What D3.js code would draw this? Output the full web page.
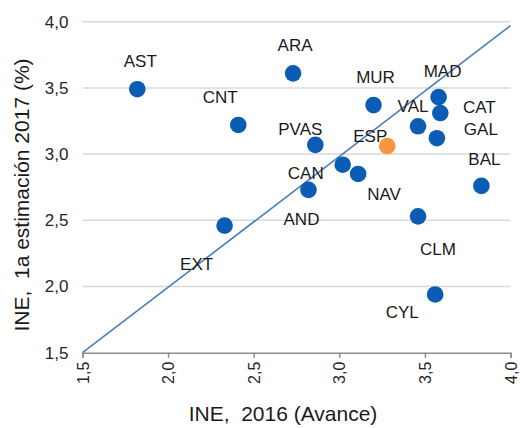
<!DOCTYPE html>
<html>
<head>
<meta charset="utf-8">
<script src="https://cdn.jsdelivr.net/npm/d3@7"></script>
<style>
  body { margin: 0; background: #fff; }
  svg { font-family: "Liberation Sans", Arial, sans-serif; }
  .title { white-space: pre; }
</style>
</head>
<body>
<div id="chart"></div>
<script>
// regional growth, INE 2016 avance vs 1a estimacion 2017
var regions = ["AST","ARA","CNT","MUR","MAD","CAT","VAL","GAL","ESP","PVAS","CAN","NAV","AND","BAL","CLM","CYL","EXT"];
var ine2016 = [1.82,2.73,2.41,3.20,3.58,3.59,3.46,3.57,3.28,2.86,3.02,3.11,2.82,3.83,3.46,3.56,2.33];
var est2017 = [3.49,3.61,3.22,3.37,3.43,3.31,3.21,3.12,3.06,3.07,2.92,2.85,2.73,2.76,2.53,1.94,2.46];
var xTicks = [1.5,2.0,2.5,3.0,3.5,4.0];
var yTicks = [1.5,2.0,2.5,3.0,3.5,4.0];
var diagX = [1.5,4.0];
var diagY = [1.5,3.97];

// where each label sits relative to its dot (px)
var labelOffsets = {
  AST:[3,-28], ARA:[2,-28], CNT:[-18,-28], MUR:[2,-28], MAD:[4,-26],
  CAT:[39,-6], VAL:[-5,-20], GAL:[44,-9], ESP:[-17,-10], PVAS:[-15,-16],
  CAN:[-37,8], NAV:[26,20], AND:[-7,29], BAL:[3,-27], CLM:[20,33],
  CYL:[-33,18], EXT:[-28,38]
};

var width = 520, height = 428;
var margin = {top: 21.7, right: 9.5, bottom: 75.3, left: 82.5};

var svg = d3.select("#chart").append("svg")
    .attr("width", width)
    .attr("height", height);

var x = d3.scaleLinear().domain([1.5, 4.0]).range([margin.left, width - margin.right]);
var y = d3.scaleLinear().domain([1.5, 4.0]).range([height - margin.bottom, margin.top]);

var fmt = function(d) { return d3.format(".1f")(d).replace(".", ","); };

// horizontal gridlines
svg.append("g")
  .selectAll("line")
  .data(yTicks.slice(1))
  .enter().append("line")
    .attr("x1", x(1.5))
    .attr("x2", x(4.0))
    .attr("y1", function(d) { return y(d); })
    .attr("y2", function(d) { return y(d); })
    .attr("stroke", "#d9d9d9")
    .attr("stroke-width", 1.5);

// y axis labels
svg.append("g")
  .selectAll("text")
  .data(yTicks)
  .enter().append("text")
    .attr("x", x(1.5) - 14)
    .attr("y", function(d) { return y(d); })
    .attr("dy", "0.35em")
    .attr("text-anchor", "end")
    .attr("font-size", 17)
    .attr("fill", "#262626")
    .text(fmt);

// x axis
var xAxis = svg.append("g")
    .attr("transform", "translate(0," + y(1.5) + ")")
    .call(d3.axisBottom(x).tickValues(xTicks).tickSize(5).tickFormat(fmt));
xAxis.select(".domain").attr("stroke", "#8c8c8c").attr("stroke-width", 1.5);
xAxis.selectAll(".tick line").attr("stroke", "#8c8c8c").attr("stroke-width", 1.5);
xAxis.selectAll(".tick text")
    .attr("font-size", 16)
    .attr("fill", "#262626")
    .attr("transform", "rotate(-90)")
    .attr("text-anchor", "end")
    .attr("x", -9)
    .attr("y", 0)
    .attr("dy", "0.35em");

// 45 degree line
svg.append("line")
    .attr("x1", x(diagX[0])).attr("y1", y(diagY[0]))
    .attr("x2", x(diagX[1])).attr("y2", y(diagY[1]))
    .attr("stroke", "#4a7ebb")
    .attr("stroke-width", 1.6);

var pts = regions.map(function(r, i) {
  return {name: r, x: ine2016[i], y: est2017[i]};
});

// labels under the dots
svg.append("g")
  .selectAll("text")
  .data(pts)
  .enter().append("text")
    .attr("x", function(d) { return x(d.x) + labelOffsets[d.name][0]; })
    .attr("y", function(d) { return y(d.y) + labelOffsets[d.name][1]; })
    .attr("dy", "0.35em")
    .attr("text-anchor", "middle")
    .attr("font-size", 17)
    .attr("fill", "#1a1a1a")
    .text(function(d) { return d.name; });

svg.append("g")
  .selectAll("circle")
  .data(pts)
  .enter().append("circle")
    .attr("cx", function(d) { return x(d.x); })
    .attr("cy", function(d) { return y(d.y); })
    .attr("r", 8.3)
    .attr("fill", function(d) { return d.name === "ESP" ? "#f7963f" : "#0a5cb4"; });

// axis titles
svg.append("text")
    .attr("class", "title")
    .attr("x", 283)
    .attr("y", 414)
    .attr("dy", "0.35em")
    .attr("text-anchor", "middle")
    .attr("font-size", 21)
    .attr("fill", "#1a1a1a")
    .text("INE,  2016 (Avance)");

svg.append("text")
    .attr("class", "title")
    .attr("transform", "translate(22,195) rotate(-90)")
    .attr("dy", "0.35em")
    .attr("text-anchor", "middle")
    .attr("font-size", 21)
    .attr("fill", "#1a1a1a")
    .text("INE,  1a estimación 2017 (%)");
</script>
</body>
</html>
